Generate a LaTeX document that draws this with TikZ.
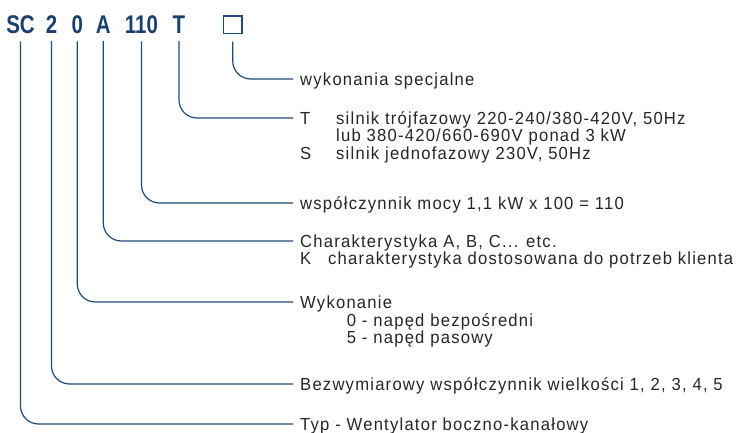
\documentclass[tikz,border=0pt]{standalone}
\usepackage{fontspec}
\setmainfont{Liberation Sans}
\newfontfamily\bodyfont{Liberation Sans}[FakeStretch=0.95,LetterSpace=7]
\newfontfamily\headfont{Liberation Sans}[FakeStretch=0.8]
\definecolor{lineblue}{RGB}{32,74,120}
\definecolor{headblue}{RGB}{26,64,108}
\definecolor{txtgray}{RGB}{38,38,38}
\tikzset{
  head/.style={anchor=base, inner sep=0pt, font=\headfont\bfseries\fontsize{25.6}{26}\selectfont, text=headblue},
  lbl/.style={anchor=west, inner xsep=7pt, inner ysep=0pt, text height=13pt, text depth=0pt,
    font=\bodyfont\fontsize{17.5}{17.5}\selectfont, text=txtgray},
  cont/.style={anchor=base west, inner sep=0pt, font=\bodyfont\fontsize{17.5}{17.5}\selectfont, text=txtgray},
  conn/.style={draw=lineblue, line width=1.2pt, rounded corners=18pt},
  sq/.style={draw=lineblue, line width=1.5pt, minimum width=18.5pt, minimum height=17.5pt, inner sep=0pt}
}
\begin{document}
\begin{tikzpicture}[x=1pt,y=-1pt]
\useasboundingbox (0,0) rectangle (737,433);
% header
\node[head] (hSC) at (20.5,33.3) {SC};
\node[head] (h2) at (51.5,33.3) {2};
\node[head] (h0) at (77.3,33.3) {0};
\node[head] (hA) at (103.3,33.3) {A};
\node[head] (h110) at (141.5,33.3) {110};
\node[head] (hT) at (179,33.3) {T};
\node[sq] (hSq) at (232.7,24.7) {};
% labels
\node[lbl] (tSq) at (293,79) {wykonania specjalne};
\node[lbl] (tT) at (293,118) {\makebox[36pt][l]{T}silnik trójfazowy 220-240/380-420V, 50Hz};
\node[cont] (tT2) at (336,142) {lub 380-420/660-690V ponad 3 kW};
\node[cont] (tT3) at (300,159.5) {\makebox[36pt][l]{S}silnik jednofazowy 230V, 50Hz};
\node[lbl] (t110) at (293,203) {współczynnik mocy 1,1 kW x 100 = 110};
\node[lbl] (tA) at (293,241) {Charakterystyka A, B, C... etc.};
\node[cont] (tA2) at (300,265) {\makebox[28pt][l]{K}charakterystyka dostosowana do potrzeb klienta};
\node[lbl] (t0) at (293,302) {Wykonanie};
\node[cont] (t02) at (346.7,326) {0 - napęd bezpośredni};
\node[cont] (t03) at (346.7,343.5) {5 - napęd pasowy};
\node[lbl] (t2) at (293,384) {Bezwymiarowy współczynnik wielkości 1, 2, 3, 4, 5};
\node[lbl, text height=12pt] (tSC) at (293,424) {Typ - Wentylator boczno-kanałowy};
% connectors
\draw[conn] ([yshift=-7.5pt]hSq.south) |- (tSq.west);
\draw[conn] ([yshift=-7.7pt]hT.south) |- (tT.west);
\draw[conn] ([yshift=-7.7pt]h110.south) |- (t110.west);
\draw[conn] ([yshift=-7.7pt]hA.south) |- (tA.west);
\draw[conn] ([yshift=-7.7pt]h0.south) |- (t0.west);
\draw[conn] ([yshift=-7.7pt]h2.south) |- (t2.west);
\draw[conn] ([yshift=-7.7pt]hSC.south) |- (tSC.west);
\end{tikzpicture}
\end{document}
